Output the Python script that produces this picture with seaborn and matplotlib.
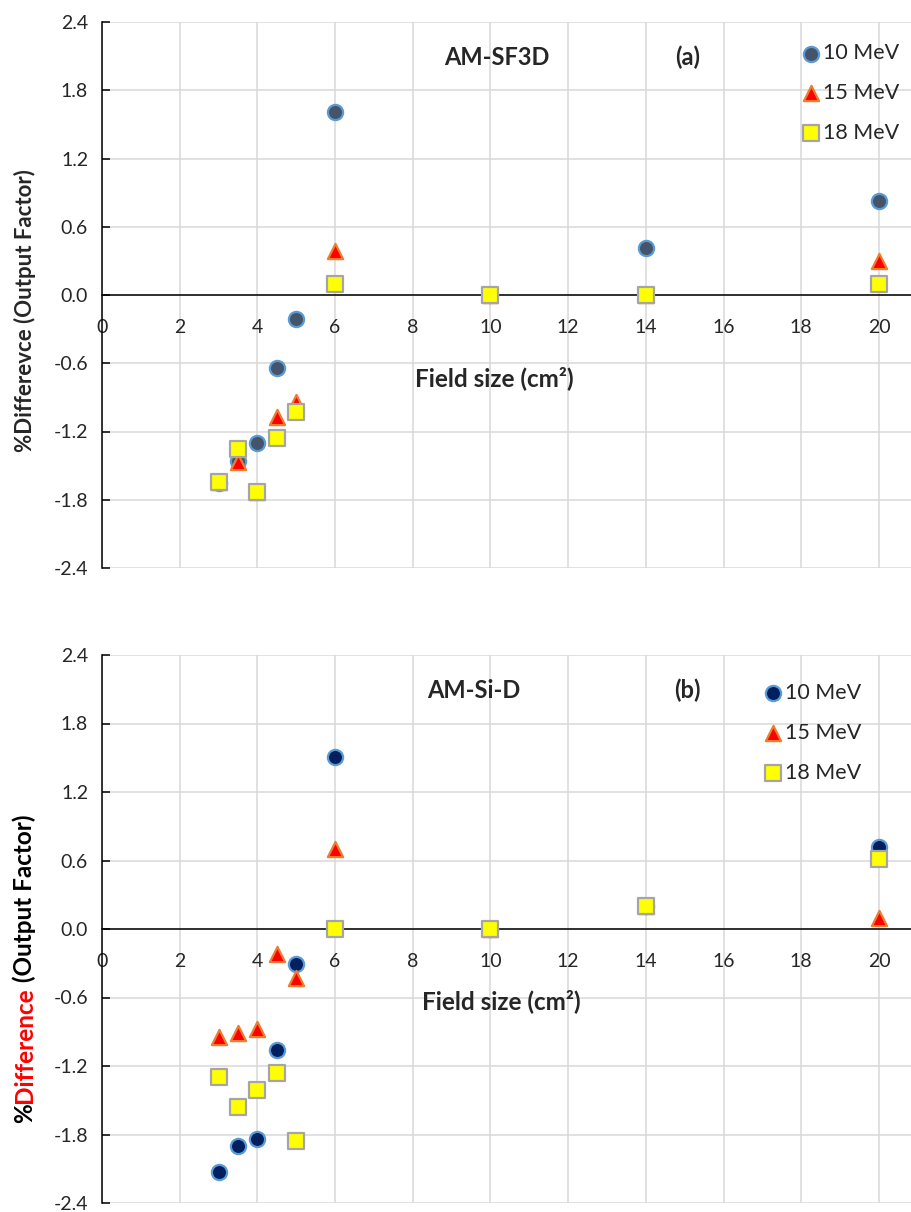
import numpy as np
import pandas as pd
import matplotlib
matplotlib.use("Agg")
import matplotlib.pyplot as plt
import seaborn as sns
from matplotlib.ticker import MultipleLocator

# Field sizes (cm^2) shared by both panels
field_sizes = [3, 3.5, 4, 4.5, 5, 6, 10, 14, 20]
energies = ["10 MeV", "15 MeV", "18 MeV"]

# (a) AM-SF3D, % difference of output factor
sf3d_10 = [-1.65, -1.46, -1.30, -0.64, -0.21, 1.61, 0.0, 0.41, 0.83]
sf3d_15 = [-1.64, -1.47, -1.73, -1.07, -0.94, 0.39, 0.0, 0.0, 0.30]
sf3d_18 = [-1.64, -1.35, -1.73, -1.26, -1.03, 0.10, 0.0, 0.0, 0.10]

# (b) AM-Si-D
sid_10 = [-2.13, -1.90, -1.84, -1.06, -0.31, 1.51, 0.0, 0.20, 0.72]
sid_15 = [-0.95, -0.91, -0.88, -0.22, -0.43, 0.70, 0.0, 0.20, 0.10]
sid_18 = [-1.30, -1.56, -1.41, -1.26, -1.86, 0.0, 0.0, 0.20, 0.61]

y_ticks = [-2.4, -1.8, -1.2, -0.6, 0.0, 0.6, 1.2, 1.8, 2.4]

sns.set_style("white")
plt.rcParams['font.family'] = ['Lato', 'DejaVu Sans']

GRID = "#d9d9d9"
# face, edge, marker for each energy
STYLES_A = {
    "10 MeV": ("#44546a", "#5b9bd5", "o"),
    "15 MeV": ("#ff0000", "#ed7d31", "^"),
    "18 MeV": ("#ffff00", "#a5a5a5", "s"),
}
STYLES_B = dict(STYLES_A)
STYLES_B["10 MeV"] = ("#002060", "#5b9bd5", "o")


def make_frame(v10, v15, v18):
    rows = []
    for name, vals in zip(energies, [v10, v15, v18]):
        for x, y in zip(field_sizes, vals):
            rows.append({"field": x, "diff": y, "energy": name})
    return pd.DataFrame(rows)


def draw_panel(ax, df, styles, title, tag, title_x, label_y, legend_anchor):
    for name in energies:
        face, edge, marker = styles[name]
        sub = df[df["energy"] == name]
        sns.scatterplot(data=sub, x="field", y="diff", ax=ax, marker=marker,
                        s=120, color=face, edgecolor=edge, linewidth=1.6,
                        label=name, zorder=3, clip_on=False)

    ax.set_xlim(0, 20.85)
    ax.set_ylim(-2.4, 2.4)
    ax.set_yticks(y_ticks)
    ax.set_yticklabels([f"{t:.1f}" for t in y_ticks])
    ax.xaxis.set_major_locator(MultipleLocator(2))
    ax.xaxis.set_minor_locator(MultipleLocator(1))
    ax.grid(True, which="major", color=GRID, linewidth=1.1)
    ax.set_axisbelow(True)

    for s in ["top", "right"]:
        ax.spines[s].set_visible(False)
    ax.spines["bottom"].set_position(("data", 0))
    ax.spines["bottom"].set_linewidth(1.1)
    ax.spines["bottom"].set_color("black")
    ax.spines["left"].set_linewidth(1.1)
    ax.spines["left"].set_color("black")

    ax.tick_params(axis="x", which="both", direction="inout", length=7,
                   width=1.1, color="black", pad=14, labelsize=14)
    ax.tick_params(axis="y", which="major", direction="in", length=6,
                   width=1.1, color="black", pad=10, labelsize=14, left=True)
    ax.set_xlabel("")
    ax.set_ylabel("")

    ax.text(title_x, 2.09, title, fontsize=17, fontweight="bold",
            ha="center", va="center")
    ax.text(15.07, 2.09, tag, fontsize=17, fontweight="bold",
            ha="center", va="center")
    ax.text(label_y[0], label_y[1], "Field size (cm²)", fontsize=17.5,
            fontweight="bold", ha="center", va="center")

    leg = ax.legend(loc="upper left", bbox_to_anchor=legend_anchor,
                    frameon=False, fontsize=15.5, handletextpad=0.2,
                    handlelength=0.7, labelspacing=0.92, borderpad=0,
                    borderaxespad=0)
    return leg


fig = plt.figure(figsize=(9.12, 12.12), dpi=100)
ax_a = fig.add_axes([102 / 912, 1 - 568 / 1212, 810 / 912, 546 / 1212])
ax_b = fig.add_axes([102 / 912, 1 - 1203 / 1212, 810 / 912, 548 / 1212])

draw_panel(ax_a, make_frame(sf3d_10, sf3d_15, sf3d_18), STYLES_A,
           "AM-SF3D", "(a)", 10.15, (10.1, -0.73), (0.866, 0.961))
draw_panel(ax_b, make_frame(sid_10, sid_15, sid_18), STYLES_B,
           "AM-Si-D", "(b)", 9.56, (10.28, -0.63), (0.819, 0.949))

# y labels
fig.text(0.027, 0.7434, "%Differevce (Output Factor)", rotation=90,
         fontsize=16, fontweight="bold", ha="center", va="center")

fig.canvas.draw()
renderer = fig.canvas.get_renderer()
y0 = 1 - 1123 / 1212
for part, col in [("%", "black"), ("Difference", "red"), (" (Output Factor)", "black")]:
    t = fig.text(0.027, y0, part, rotation=90, fontsize=17.5,
                 fontweight="bold", ha="center", va="bottom", color=col)
    bb = t.get_window_extent(renderer)
    y0 += bb.height / fig.bbox.height

fig.savefig("out.png", dpi=100)
